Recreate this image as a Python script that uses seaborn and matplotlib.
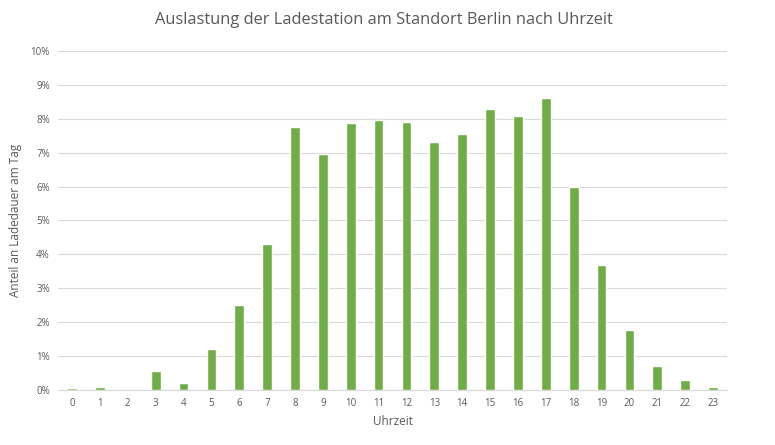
import matplotlib
matplotlib.use("Agg")
import matplotlib.pyplot as plt
import seaborn as sns
import pandas as pd
from matplotlib.ticker import FuncFormatter

hours = [str(h) for h in range(24)]
share = [0.05, 0.08, 0.02, 0.57, 0.21, 1.2, 2.5, 4.3, 7.75, 6.95, 7.87, 7.96,
         7.92, 7.31, 7.54, 8.28, 8.1, 8.63, 5.98, 3.7, 1.78, 0.69, 0.28, 0.09]
y_ticks = list(range(0, 11))

sns.set_theme(style="white")
plt.rcParams['font.family'] = ['Open Sans', 'DejaVu Sans']

df = pd.DataFrame({"Uhrzeit": hours, "Anteil": share})

fig = plt.figure(figsize=(7.75, 4.45), dpi=100)
ax = fig.add_axes([0.075, 0.124, 0.863, 0.761])
sns.barplot(data=df, x="Uhrzeit", y="Anteil", color="#70AD47", width=0.35,
            saturation=1, ax=ax, zorder=3)

ax.set_ylim(0, 10)
ax.set_yticks(y_ticks)
ax.yaxis.set_major_formatter(FuncFormatter(lambda v, p: f"{int(v)}%"))
ax.grid(axis="y", color="#d9d9d9", linewidth=0.8, zorder=0)
ax.set_xlim(-0.5, 23.5)
for s in ["top", "right", "left"]:
    ax.spines[s].set_visible(False)
ax.spines["bottom"].set_color("#d9d9d9")
ax.spines["bottom"].set_linewidth(0.8)
ax.tick_params(axis="both", length=0, labelsize=7, colors="#595959", pad=6)
ax.set_xlabel("Uhrzeit", fontsize=8.5, color="#595959", labelpad=4)
ax.set_ylabel("Anteil an Ladedauer am Tag", fontsize=8.5, color="#595959", labelpad=6)
fig.suptitle("Auslastung der Ladestation am Standort Berlin nach Uhrzeit",
             fontsize=11.8, color="#595959", y=0.972, x=0.495)

fig.savefig("out.png", dpi=100)
